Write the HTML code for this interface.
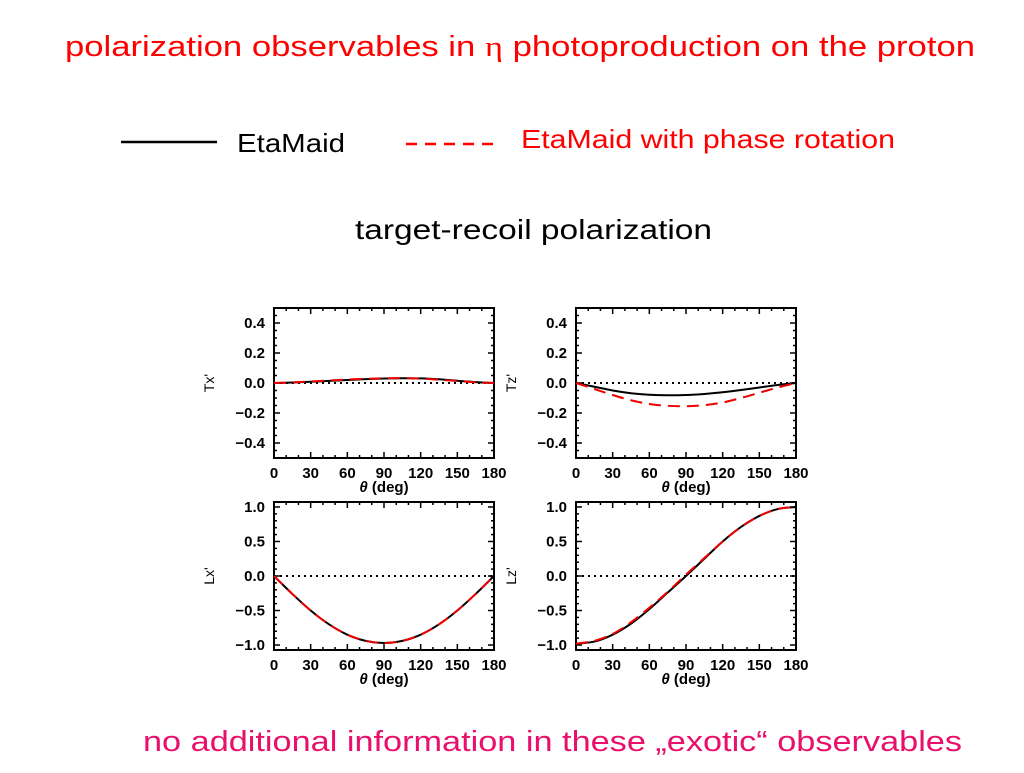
<!DOCTYPE html>
<html><head><meta charset="utf-8"><style>
body{margin:0;background:#fff;width:1024px;height:768px;overflow:hidden;font-family:"Liberation Sans",sans-serif}
</style></head><body>
<svg id="s" width="1024" height="768" xmlns="http://www.w3.org/2000/svg">
<text x="65" y="56" font-size="29" fill="#f00" textLength="910" lengthAdjust="spacingAndGlyphs">polarization observables in <tspan font-family="Liberation Serif">η</tspan> photoproduction on the proton</text>
<line x1="121" y1="142" x2="217" y2="142" stroke="#000" stroke-width="2.5"/>
<text x="237" y="152" font-size="26" fill="#000" textLength="108" lengthAdjust="spacingAndGlyphs">EtaMaid</text>
<line x1="406" y1="144" x2="500" y2="144" stroke="#f00" stroke-width="2.5" stroke-dasharray="11,8"/>
<text x="521" y="148" font-size="26" fill="#f00" textLength="374" lengthAdjust="spacingAndGlyphs">EtaMaid with phase rotation</text>
<text x="355" y="239" font-size="28" fill="#000" textLength="357" lengthAdjust="spacingAndGlyphs">target-recoil polarization</text>
<text x="143" y="751" font-size="29" fill="#e8106a" textLength="819" lengthAdjust="spacingAndGlyphs">no additional information in these „exotic“  observables</text>
<g id="plots"></g>
</svg>
<script>
const angles=[0,15,30,45,60,75,90,105,120,135,150,165,180];
const txBlack=[0,0.003,0.008,0.014,0.02,0.026,0.03,0.032,0.031,0.025,0.015,0.006,0];
const txRed=[0,0.004,0.01,0.017,0.023,0.028,0.031,0.032,0.029,0.022,0.013,0.005,0];
const tzBlack=[0,-0.025,-0.05,-0.068,-0.078,-0.082,-0.08,-0.073,-0.062,-0.047,-0.03,-0.013,0];
const tzRed=[0,-0.04,-0.08,-0.115,-0.14,-0.152,-0.155,-0.148,-0.13,-0.1,-0.065,-0.03,0];
const lxBlack=[0,-0.26,-0.5,-0.7,-0.85,-0.94,-0.97,-0.94,-0.85,-0.7,-0.5,-0.26,0];
const lxRed=[0,-0.26,-0.5,-0.7,-0.85,-0.94,-0.97,-0.94,-0.85,-0.7,-0.5,-0.26,0];
const lzBlack=[-0.98,-0.95,-0.85,-0.69,-0.48,-0.24,0.0,0.25,0.5,0.71,0.87,0.97,1.0];
const lzRed=[-0.98,-0.94,-0.84,-0.67,-0.46,-0.23,0.02,0.26,0.5,0.71,0.87,0.97,1.0];
const xTicks=[0,30,60,90,120,150,180];
const smallTicks=[0.4,0.2,0.0,-0.2,-0.4];
const bigTicks=[1.0,0.5,0.0,-0.5,-1.0];
const NS="http://www.w3.org/2000/svg";
const g=document.getElementById('plots');
function mk(t,a,p){const e=document.createElementNS(NS,t);for(const k in a)e.setAttribute(k,a[k]);(p||g).appendChild(e);return e;}
function smooth(P){let d='M'+P[0][0]+','+P[0][1];for(let i=0;i<P.length-1;i++){const p0=P[Math.max(0,i-1)],p1=P[i],p2=P[i+1],p3=P[Math.min(P.length-1,i+2)];
 const c1=[p1[0]+(p2[0]-p0[0])/6,p1[1]+(p2[1]-p0[1])/6],c2=[p2[0]-(p3[0]-p1[0])/6,p2[1]-(p3[1]-p1[1])/6];
 d+=` C${c1[0]},${c1[1]} ${c2[0]},${c2[1]} ${p2[0]},${p2[1]}`;}return d;}
const panels=[
 {name:"tx",label:"Tx'",x0:274,x1:494,yTop:308,yBot:458,vTop:0.5,vBot:-0.5,ticks:smallTicks,minor:0.05,b:txBlack,r:txRed},
 {name:"tz",label:"Tz'",x0:576,x1:796,yTop:308,yBot:458,vTop:0.5,vBot:-0.5,ticks:smallTicks,minor:0.05,b:tzBlack,r:tzRed},
 {name:"lx",label:"Lx'",x0:274,x1:494,yTop:502,yBot:650,vTop:1.072,vBot:-1.072,ticks:bigTicks,minor:0.1,b:lxBlack,r:lxRed},
 {name:"lz",label:"Lz'",x0:576,x1:796,yTop:502,yBot:650,vTop:1.072,vBot:-1.072,ticks:bigTicks,minor:0.1,b:lzBlack,r:lzRed}
];
panels.forEach(p=>{
 const gp=mk('g',{});
 
 
 const X=a=>p.x0+(a/180)*(p.x1-p.x0);
 const Y=v=>p.yBot-(v-p.vBot)/(p.vTop-p.vBot)*(p.yBot-p.yTop);
 const fr=mk('rect',{x:p.x0,y:p.yTop,width:p.x1-p.x0,height:p.yBot-p.yTop,fill:'none',stroke:'#000','stroke-width':2},gp);
 
 
 for(let a=0;a<=180;a+=10){const big=a%30===0;const L=big?6:3;
  mk('line',{x1:X(a),y1:p.yBot,x2:X(a),y2:p.yBot-L,stroke:'#000','stroke-width':1.5},gp);
  mk('line',{x1:X(a),y1:p.yTop,x2:X(a),y2:p.yTop+L,stroke:'#000','stroke-width':1.5},gp);}
 for(let v=Math.ceil(p.vBot/p.minor)*p.minor;v<=p.vTop+1e-9;v+=p.minor){
  const yy=Y(v);const big=p.ticks.some(t=>Math.abs(t-v)<1e-6);const L=big?6:3;
  mk('line',{x1:p.x0,y1:yy,x2:p.x0+L,y2:yy,stroke:'#000','stroke-width':1.5},gp);
  mk('line',{x1:p.x1,y1:yy,x2:p.x1-L,y2:yy,stroke:'#000','stroke-width':1.5},gp);}
 xTicks.forEach(a=>{const t=mk('text',{x:X(a),y:p.yBot+20,'text-anchor':'middle','font-size':15,'font-weight':'bold'},gp);t.textContent=a;
  
  });
 p.ticks.forEach(v=>{const t=mk('text',{x:p.x0-9,y:Y(v)+5,'text-anchor':'end','font-size':15,'font-weight':'bold'},gp);t.textContent=(v<0?'\u2212'+(-v).toFixed(1):v.toFixed(1));
  
  });
 const xt=mk('text',{x:(p.x0+p.x1)/2,y:p.yBot+34,'text-anchor':'middle','font-size':15,'font-weight':'bold'},gp);
 xt.innerHTML='<tspan font-style="italic">θ</tspan>  (deg)';
 
 
 const yc=(p.yTop+p.yBot)/2;
 const yt=mk('text',{x:p.x0-60,y:yc,'text-anchor':'middle','font-size':14,transform:`rotate(-90 ${p.x0-60} ${yc})`},gp);
 yt.textContent=p.label;
 
 
 const z=mk('line',{x1:p.x0,y1:Y(0),x2:p.x1,y2:Y(0),stroke:'#000','stroke-width':2,'stroke-dasharray':'2,4'},gp);
 
 
 const pts=arr=>angles.map((a,i)=>[X(a),Y(arr[i])]);
 const bl=mk('path',{d:smooth(pts(p.b)),fill:'none',stroke:'#000','stroke-width':2},gp);
 
 
 const rl=mk('path',{d:smooth(pts(p.r)),fill:'none',stroke:'#e00','stroke-width':2,'stroke-dasharray':'12,7'},gp);
 
 
});
</script>
</body></html>
